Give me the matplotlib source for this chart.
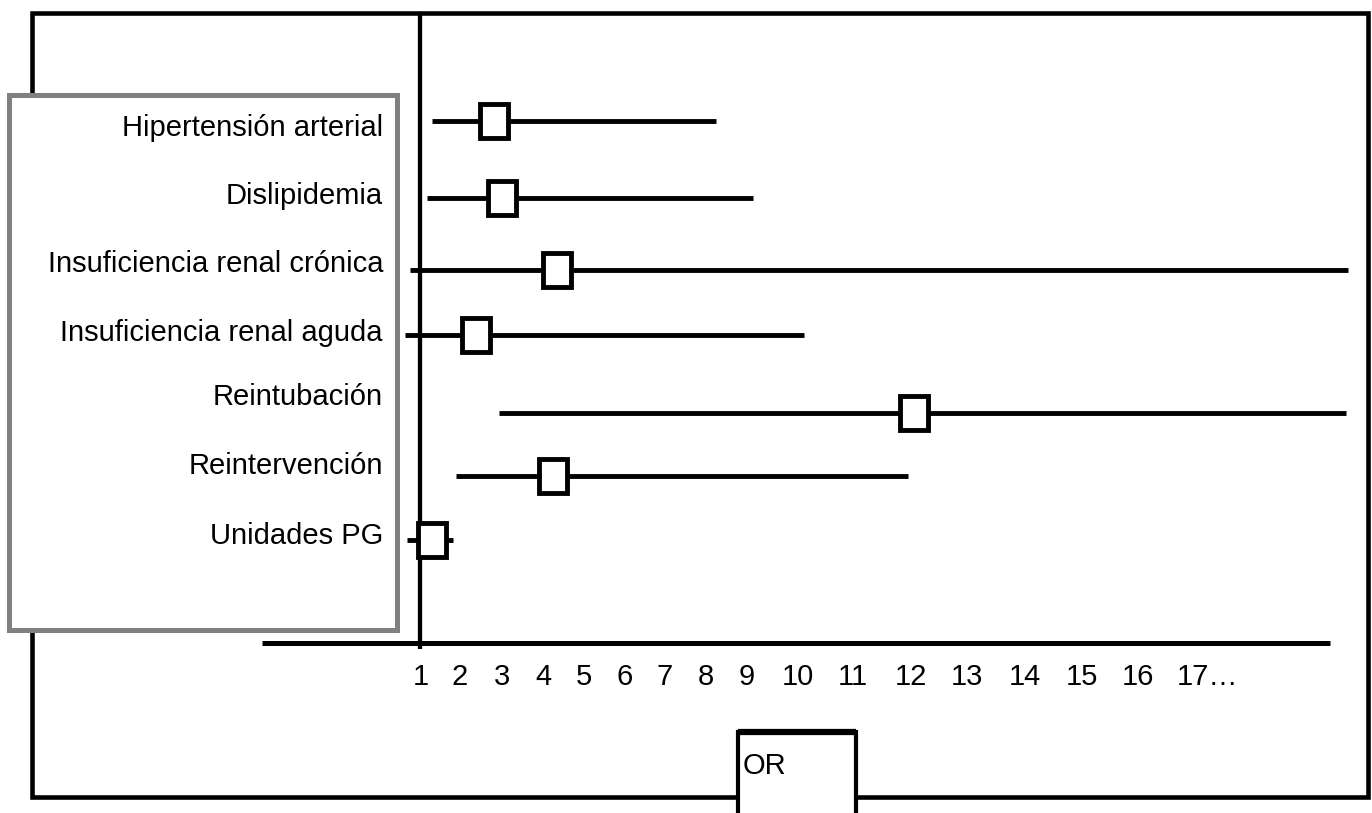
import numpy as np
import matplotlib
matplotlib.use("Agg")
import matplotlib.pyplot as plt
from matplotlib.patches import Rectangle
from matplotlib.markers import MarkerStyle
from matplotlib.transforms import Affine2D

# data: odds ratio with 95% CI per variable
variables = [
    "Hipertensión arterial",
    "Dislipidemia",
    "Insuficiencia renal crónica",
    "Insuficiencia renal aguda",
    "Reintubación",
    "Reintervención",
    "Unidades PG",
]
odds_ratio = [2.81, 3.0, 4.34, 2.38, 12.05, 4.24, 1.28]
ci_low = [1.28, 1.15, 0.72, 0.59, 2.93, 1.9, 0.64]
ci_high = [8.24, 9.11, 19.8, 10.11, 19.75, 11.95, 1.82]
tick_values = list(range(1, 18))
tick_labels = [str(v) for v in tick_values[:-1]] + ["17…"]

# layout (pixels of the 1372x813 canvas)
W, H = 1372, 813
tick_px = np.array([421, 460, 502, 543, 584, 625, 665, 706, 747, 798,
                    853, 911, 967, 1025, 1082, 1138, 1193], dtype=float)
row_px = [121, 198, 270, 335, 413, 476, 540]
label_px = [128, 196, 264, 333, 397, 466, 536]
tv = np.array(tick_values, dtype=float)
slope_lo = (tick_px[1] - tick_px[0]) / (tv[1] - tv[0])
slope_hi = (tick_px[-1] - tick_px[-3]) / (tv[-1] - tv[-3])


def forward(x):
    x = np.asarray(x, dtype=float)
    y = np.interp(x, tv, tick_px)
    y = np.where(x < tv[0], tick_px[0] + (x - tv[0]) * slope_lo, y)
    y = np.where(x > tv[-1], tick_px[-1] + (x - tv[-1]) * slope_hi, y)
    return y


def inverse(p):
    p = np.asarray(p, dtype=float)
    x = np.interp(p, tick_px, tv)
    x = np.where(p < tick_px[0], tv[0] + (p - tick_px[0]) / slope_lo, x)
    x = np.where(p > tick_px[-1], tv[-1] + (p - tick_px[-1]) / slope_hi, x)
    return x


plt.rcParams['font.family'] = ['Liberation Sans', 'DejaVu Sans']
FS = 21
LW = 3.5

fig = plt.figure(figsize=(W / 100, H / 100), dpi=100)

# background drawing in pixel coords
bg = fig.add_axes([0, 0, 1, 1])
bg.set_xlim(0, W)
bg.set_ylim(H, 0)
bg.axis('off')

bg.add_patch(Rectangle((32, 13), 1336, 784, fill=False, ec='black', lw=3.3, zorder=1))
bg.plot([420, 420], [13, 649], color='black', lw=3.1, zorder=2, solid_capstyle='butt')
bg.plot([262, 1330], [643, 643], color='black', lw=3.6, zorder=2, solid_capstyle='butt')
bg.add_patch(Rectangle((9, 95), 388, 535, fc='white', ec='#808080', lw=3.6, zorder=3))
bg.add_patch(Rectangle((738, 732), 118, 90, fc='white', ec='black', lw=3.0, zorder=3))
bg.plot([738, 856], [732, 732], color='black', lw=4.5, zorder=4, solid_capstyle='butt')
bg.text(743, 766, "OR", fontsize=FS, ha='left', va='center', zorder=4)

for name, ly in zip(variables, label_px):
    bg.text(383, ly, name, fontsize=FS, ha='right', va='center', zorder=4)

# forest plot axes: OR on a custom scale, y in pixels
ax = fig.add_axes([0, 0, 1, 1])
ax.patch.set_alpha(0)
ax.set_xscale('function', functions=(forward, inverse))
ax.set_xlim(float(inverse(0)), float(inverse(W)))
ax.set_ylim(H, 0)
ax.axis('off')

box = MarkerStyle('s', transform=Affine2D().scale(0.86, 1.0))
for lo, hi, orv, y in zip(ci_low, ci_high, odds_ratio, row_px):
    ax.plot([lo, hi], [y, y], color='black', lw=LW, solid_capstyle='butt', zorder=5)
    ax.plot([orv], [y], marker=box, markersize=24, mfc='white', mec='black',
            mew=LW, linestyle='none', zorder=6)

for v, lab in zip(tick_values, tick_labels):
    dx = 0 if lab == str(v) else 14.5
    ax.annotate(lab, (v, 677), xytext=(dx, 0), textcoords='offset pixels',
                fontsize=FS, ha='center', va='center')

fig.savefig("out.png", dpi=100)
